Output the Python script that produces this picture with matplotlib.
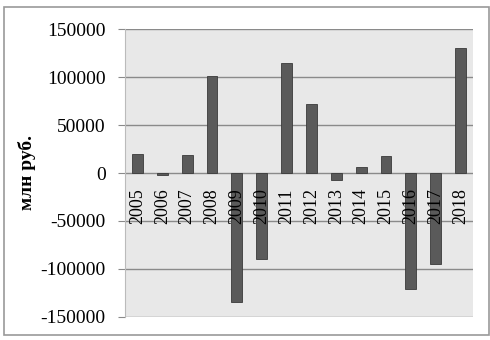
import matplotlib.pyplot as plt
from matplotlib.patches import Rectangle

# данные
years = ['2005', '2006', '2007', '2008', '2009', '2010', '2011',
         '2012', '2013', '2014', '2015', '2016', '2017', '2018']
values = [19500, -2000, 18800, 101400, -135000, -90000, 115000,
          72000, -7300, 6600, 18000, -121000, -95000, 131000]
yticks = [-150000, -100000, -50000, 0, 50000, 100000, 150000]

plt.rcParams['font.family'] = ['Liberation Serif', 'DejaVu Serif']

fig = plt.figure(figsize=(4.9, 3.4), dpi=100)
fig.patches.append(Rectangle((4 / 490, 1 - 335 / 340), 485 / 490, 328 / 340,
                             transform=fig.transFigure, fill=False,
                             edgecolor='#999999', linewidth=1.2))
ax = fig.add_axes([125 / 490, 1 - 316.7 / 340, 348 / 490, 287.4 / 340])
ax.set_facecolor('#e8e8e8')

x = range(len(years))
ax.bar(x, values, width=0.44, color='#5a5a5a', edgecolor='#3a3a3a',
       linewidth=0.6, zorder=3)
ax.set_xlim(-0.5, len(years) - 0.5)
ax.set_ylim(-150000, 150000)
ax.set_yticks(yticks)
ax.set_yticklabels([str(v) for v in yticks], fontsize=14)
ax.yaxis.grid(True, color='#8a8a8a', linewidth=1.0, zorder=1)
ax.tick_params(axis='y', length=5, color='#8a8a8a', pad=9)
ax.set_xticks([])
for s in ax.spines.values():
    s.set_visible(False)
ax.spines['left'].set_visible(True)
ax.spines['left'].set_color('#bbbbbb')

# подписи лет внутри области графика
for i, yr in zip(x, years):
    ax.text(i, -16000, yr, rotation=90, ha='center', va='top', fontsize=13,
            zorder=4)

fig.text(27 / 490, 1 - 172 / 340, 'млн руб.', rotation=90, ha='center',
         va='center', fontsize=14, fontweight='bold')

fig.savefig('out.png', dpi=100)
